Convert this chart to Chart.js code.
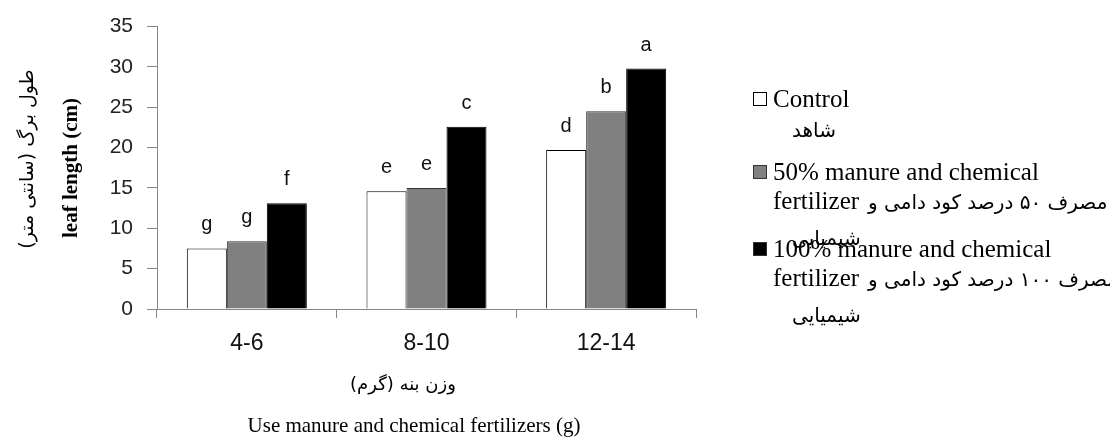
<!DOCTYPE html>
<html>
<head>
<meta charset="utf-8">
<script src="https://cdn.jsdelivr.net/npm/chart.js@4"></script>
<style>
  body { margin: 0; background: #fff; }
</style>
</head>
<body>
<canvas id="barChart" width="1110" height="439"></canvas>
<script>
const categories = ['4-6', '8-10', '12-14'];

const controlValues = [7.5, 14.6, 19.7];
const halfManureValues = [8.4, 15.0, 24.5];
const fullManureValues = [13.1, 22.6, 29.8];

// significance letters above each bar
const controlLetters = ['g', 'e', 'd'];
const halfManureLetters = ['g', 'e', 'b'];
const fullManureLetters = ['f', 'c', 'a'];

const yTitleFa = 'طول برگ (سانتی متر)';
const yTitleEn = 'leaf length (cm)';
const xTitleFa = 'وزن بنه (گرم)';
const xTitleEn = 'Use manure and chemical fertilizers (g)';

const legendItems = [
    { color: '#ffffff', lines: ['Control'], fa: ['شاهد'] },
    { color: '#808080', lines: ['50% manure and chemical', 'fertilizer'], fa: ['مصرف ۵۰ درصد کود دامی و', 'شیمیایی'] },
    { color: '#000000', lines: ['100% manure and chemical', 'fertilizer'], fa: ['مصرف ۱۰۰ درصد کود دامی و', 'شیمیایی'] },
];

const sans = "'Liberation Sans', Arial, sans-serif";
const serif = "'Liberation Serif', 'DejaVu Sans', serif";
const faFont = "'DejaVu Sans', sans-serif";
const axisGrey = '#868686';

const barLetters = {
    id: 'barLetters',
    afterDatasetsDraw(chart) {
        const ctx = chart.ctx;
        const all = [controlLetters, halfManureLetters, fullManureLetters];
        ctx.save();
        ctx.font = '20px ' + sans;
        ctx.fillStyle = '#111';
        ctx.textAlign = 'center';
        ctx.textBaseline = 'alphabetic';
        chart.data.datasets.forEach((ds, i) => {
            chart.getDatasetMeta(i).data.forEach((bar, j) => {
                ctx.fillText(all[i][j], bar.x, bar.y - 18);
            });
        });
        ctx.restore();
    }
};

function persianText(ctx, text, x, y, size) {
    ctx.save();
    ctx.direction = 'rtl';
    ctx.textAlign = 'left';
    ctx.font = size + 'px ' + faFont;
    ctx.fillText(text, x, y);
    ctx.restore();
}

const titlesAndLegend = {
    id: 'titlesAndLegend',
    afterDraw(chart) {
        const ctx = chart.ctx;
        ctx.save();
        ctx.fillStyle = '#000';

        // rotated y titles
        ctx.save();
        ctx.translate(28, 159);
        ctx.rotate(-Math.PI / 2);
        ctx.direction = 'rtl';
        ctx.textAlign = 'center';
        ctx.textBaseline = 'middle';
        ctx.font = '19px ' + faFont;
        ctx.fillText(yTitleFa, 0, 0);
        ctx.restore();

        ctx.save();
        ctx.translate(72, 168);
        ctx.rotate(-Math.PI / 2);
        ctx.textAlign = 'center';
        ctx.textBaseline = 'middle';
        ctx.font = 'bold 21px ' + serif;
        ctx.fillText(yTitleEn, 0, 0);
        ctx.restore();

        // x titles under the axis
        ctx.save();
        ctx.direction = 'rtl';
        ctx.textAlign = 'center';
        ctx.font = '18px ' + faFont;
        ctx.fillText(xTitleFa, 403, 390);
        ctx.restore();

        ctx.textAlign = 'center';
        ctx.font = '21px ' + serif;
        ctx.fillText(xTitleEn, 414, 432);

        // legend: swatch, english line(s), persian line(s)
        const rowTops = [107, 180, 257];
        ctx.textAlign = 'left';
        legendItems.forEach((item, i) => {
            const base = rowTops[i];
            ctx.fillStyle = item.color;
            ctx.strokeStyle = i === 0 ? '#000' : '#333';
            ctx.lineWidth = 1;
            ctx.fillRect(753.5, base - 14.5, 13, 13);
            ctx.strokeRect(753.5, base - 14.5, 13, 13);
            ctx.fillStyle = '#000';
            ctx.font = '25px ' + serif;
            ctx.fillText(item.lines[0], 773, base);
            if (item.lines.length > 1) {
                ctx.fillText(item.lines[1], 773, base + 29);
                persianText(ctx, item.fa[0], 868, base + 29, 20);
                persianText(ctx, item.fa[1], 792, base + 65, 20);
            } else {
                persianText(ctx, item.fa[0], 792, base + 30, 20);
            }
        });
        ctx.restore();
    }
};

const barChart = new Chart(document.getElementById('barChart'), {
    type: 'bar',
    data: {
        labels: categories,
        datasets: [
            {
                label: legendItems[0].lines[0],
                data: controlValues,
                backgroundColor: '#ffffff',
                borderColor: '#000000',
                borderWidth: 1,
            },
            {
                label: legendItems[1].lines[0],
                data: halfManureValues,
                backgroundColor: '#808080',
                borderColor: '#333333',
                borderWidth: 1,
            },
            {
                label: legendItems[2].lines[0],
                data: fullManureValues,
                backgroundColor: '#000000',
                borderColor: '#000000',
                borderWidth: 1,
            },
        ]
    },
    options: {
        responsive: false,
        animation: false,
        layout: { padding: { left: 0, top: 22, right: 414, bottom: 0 } },
        datasets: {
            bar: { categoryPercentage: 0.668, barPercentage: 1 }
        },
        plugins: {
            legend: { display: false },
            tooltip: { enabled: false },
        },
        scales: {
            x: {
                grid: { drawOnChartArea: false, tickLength: 9, color: axisGrey, offset: true },
                border: { color: axisGrey },
                ticks: { font: { family: sans, size: 23 }, color: '#111', padding: 12 },
                afterFit: (scale) => { scale.height = 130; },
            },
            y: {
                min: 0,
                max: 35,
                grid: { drawOnChartArea: false, tickLength: 10, color: axisGrey },
                border: { color: axisGrey },
                ticks: { stepSize: 5, font: { family: sans, size: 21 }, color: '#222', padding: 14 },
                afterFit: (scale) => { scale.width = 157; },
            }
        }
    },
    plugins: [barLetters, titlesAndLegend]
});
</script>
</body>
</html>
